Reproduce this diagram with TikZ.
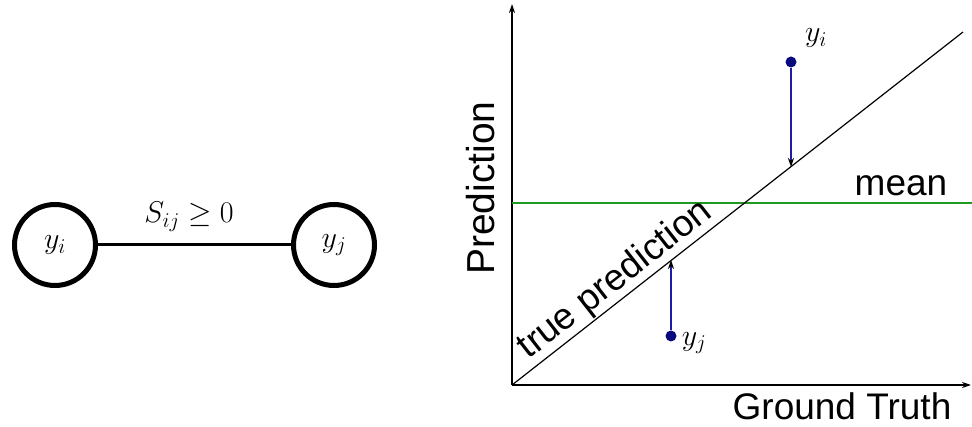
\RequirePackage{fix-cm}
\documentclass[tikz,border=0pt]{standalone}
\usepackage{amsmath,amssymb}
\usepackage{fontspec}
\setmainfont{Liberation Sans}
\usepackage{tikz}
\usetikzlibrary{positioning,arrows.meta}
\definecolor{dotBlue}{HTML}{0A0A80}
\definecolor{errBlue}{HTML}{1C1CA6}
\definecolor{meanGreen}{HTML}{1F9A1F}

\begin{document}
\begin{tikzpicture}[
    x=1pt, y=-1pt,
    var/.style={draw, circle, line width=5pt, minimum size=81pt, inner sep=0pt, font=\fontsize{30}{36}\selectfont},
    lbl/.style={font=\fontsize{37}{44}\selectfont},
    mlbl/.style={font=\fontsize{30}{36}\selectfont},
    axis/.style={-{Stealth[length=9pt, width=6pt]}, line width=1.6pt},
    err/.style={errBlue, line width=1.6pt, -{Stealth[black, length=9pt, width=6pt]}},
    pt/.style={circle, fill=dotBlue, minimum size=11pt, inner sep=0pt}
  ]
  \useasboundingbox (0,0) rectangle (972,427);

  % pairwise graph
  \node[var] (YI) at (55, 245)  {$y_i$};
  \node[var] (YJ) at (334, 245) {$y_j$};
  \draw[line width=3pt] (YI) -- (YJ);
  \node[mlbl] (S) at (189, 217) {$S_{ij} \geq 0$};

  % regression plot
  \coordinate (O)  at (512, 385);
  \coordinate (YT) at (512, 4);
  \coordinate (XT) at (971, 385);
  \coordinate (DE) at (963, 32);
  \coordinate (ML) at (512, 203);
  \coordinate (MR) at (972, 203);
  \draw[axis] (O) -- (YT);
  \draw[axis] (O) -- (XT);
  \draw[meanGreen, line width=1.6pt] (ML) -- (MR);
  \draw[line width=1.2pt] (O) -- (DE)
    node[pos=0.255, sloped, above, inner sep=1pt, lbl] (TP) {true prediction};

  \node[lbl] (GT) at (842, 406) {Ground Truth};
  \node[lbl, font=\fontsize{39}{46}\selectfont, rotate=90] (PR) at (481, 188) {Prediction};
  \node[lbl] (MN) at (901, 186) {mean};

  \node[pt] (PI) at (791, 62)  {};
  \node[pt] (PJ) at (671, 336) {};
  \coordinate (TI) at (791, 167);
  \coordinate (TJ) at (671, 260);
  \draw[err] (PI) -- (TI);
  \draw[err] (PJ) -- (TJ);
  \node[mlbl] (LI) at (816, 38)  {$y_i$};
  \node[mlbl] (LJ) at (694, 343) {$y_j$};
\end{tikzpicture}
\end{document}
